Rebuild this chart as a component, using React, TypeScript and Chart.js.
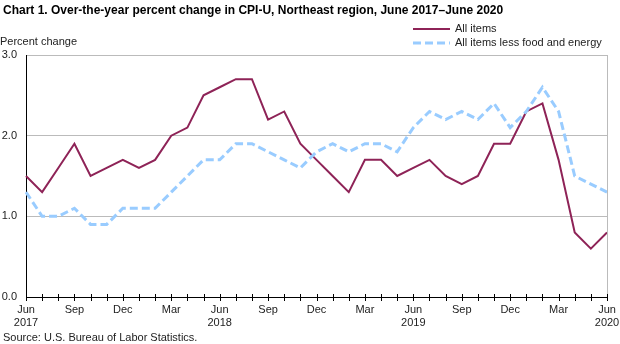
import React, { useEffect, useRef } from "react";
import { Chart, registerables } from "chart.js";

Chart.register(...registerables);

const months = ["Jun","Jul","Aug","Sep","Oct","Nov","Dec","Jan","Feb","Mar","Apr","May"];
const startYear = 2017;
const categories: string[] = [];
for (let i = 0; i <= 36; i++) {
  const m = months[i % 12];
  const y = startYear + Math.floor((i + 5) / 12);
  categories.push(m + " " + y);
}

const allItems = [
  1.5, 1.3, 1.6, 1.9, 1.5, 1.6, 1.7, 1.6, 1.7, 2.0, 2.1, 2.5,
  2.6, 2.7, 2.7, 2.2, 2.3, 1.9, 1.7, 1.5, 1.3, 1.7, 1.7, 1.5,
  1.6, 1.7, 1.5, 1.4, 1.5, 1.9, 1.9, 2.3, 2.4, 1.7, 0.8, 0.6,
  0.8,
];
const coreItems = [
  1.3, 1.0, 1.0, 1.1, 0.9, 0.9, 1.1, 1.1, 1.1, 1.3, 1.5, 1.7,
  1.7, 1.9, 1.9, 1.8, 1.7, 1.6, 1.8, 1.9, 1.8, 1.9, 1.9, 1.8,
  2.1, 2.3, 2.2, 2.3, 2.2, 2.4, 2.1, 2.3, 2.6, 2.3, 1.5, 1.4,
  1.3,
];
const yTicks = [0, 1, 2, 3];

const titleText = "Chart 1. Over-the-year percent change in CPI-U, Northeast region, June 2017\u2013June 2020";
const yTitle = "Percent change";
const sourceText = "Source: U.S. Bureau of Labor Statistics.";
const seriesNames = ["All items", "All items less food and energy"];
const colorAll = "#8E2357";
const colorCore = "#99CCFF";
const FONT = "Arial, 'Liberation Sans', sans-serif";

export default function App() {
  const ref = useRef<HTMLCanvasElement | null>(null);
  useEffect(() => {
    if (!ref.current) return;
    const decor = {
      id: "decor",
      afterDraw(chart: any) {
        const ctx = chart.ctx;
        const a = chart.chartArea;
        ctx.save();
        ctx.strokeStyle = "#BBBBBB";
        ctx.lineWidth = 1;
        ctx.beginPath();
        ctx.moveTo(a.right + 0.5, a.top);
        ctx.lineTo(a.right + 0.5, a.bottom);
        ctx.stroke();
        const xs = chart.scales.x;
        ctx.strokeStyle = "#000";
        ctx.beginPath();
        for (let i = 0; i < categories.length; i++) {
          const x = Math.round(xs.getPixelForValue(i)) + 0.5;
          ctx.moveTo(x, a.bottom - 3);
          ctx.lineTo(x, a.bottom + 4);
        }
        ctx.stroke();
        ctx.fillStyle = "#000";
        ctx.textBaseline = "middle";
        ctx.textAlign = "left";
        ctx.font = "bold 12px " + FONT;
        ctx.fillText(titleText, 3, 11);
        ctx.font = "11px " + FONT;
        ctx.fillStyle = "#222";
        ctx.fillText(yTitle, 0, 42);
        ctx.fillText(sourceText, 3, 338);
        const items = [
          { name: seriesNames[0], color: colorAll, dash: [] as number[], w: 2, y: 29 },
          { name: seriesNames[1], color: colorCore, dash: [8, 4], w: 3, y: 43 },
        ];
        for (const it of items) {
          ctx.strokeStyle = it.color;
          ctx.lineWidth = it.w;
          ctx.setLineDash(it.dash);
          ctx.beginPath();
          ctx.moveTo(413, it.y);
          ctx.lineTo(450, it.y);
          ctx.stroke();
          ctx.setLineDash([]);
          ctx.fillStyle = "#222";
          ctx.fillText(it.name, 455, it.y);
        }
        ctx.restore();
      },
    };
    const chart = new Chart(ref.current, {
      type: "line",
      data: {
        labels: categories,
        datasets: [
          {
            label: seriesNames[1],
            data: coreItems,
            borderColor: colorCore,
            borderWidth: 3,
            borderDash: [8, 4],
            pointRadius: 0,
            tension: 0,
            fill: false,
          },
          {
            label: seriesNames[0],
            data: allItems,
            borderColor: colorAll,
            borderWidth: 2,
            pointRadius: 0,
            tension: 0,
            fill: false,
          },
        ],
      },
      options: {
        animation: false,
        responsive: false,
        devicePixelRatio: 1,
        layout: { padding: { top: 55, left: 0, right: 13, bottom: 0 } },
        plugins: {
          legend: { display: false },
          title: { display: false },
          tooltip: { enabled: false },
        },
        scales: {
          x: {
            type: "category",
            offset: false,
            grid: { display: false, drawTicks: false },
            border: { display: true, color: "#000", width: 1 },
            ticks: {
              autoSkip: false,
              maxRotation: 0,
              padding: 6,
              color: "#222",
              font: { family: FONT, size: 11 },
              callback: (_v: any, i: number) => {
                const m = i % 12;
                if (m % 3 !== 0) return "";
                const name = months[m];
                if (name === "Jun") {
                  return [name, String(startYear + Math.floor(i / 12))];
                }
                return name;
              },
            },
            afterFit: (s: any) => {
              s.height = 47;
              s.paddingLeft = 0;
              s.paddingRight = 0;
            },
          },
          y: {
            min: 0,
            max: 3,
            afterBuildTicks: (s: any) => { s.ticks = yTicks.map((v) => ({ value: v })); },
            grid: { color: "#BBBBBB", drawTicks: false, lineWidth: 1 },
            border: { display: true, color: "#000", width: 1 },
            ticks: {
              padding: 9,
              color: "#222",
              font: { family: FONT, size: 11 },
              callback: (v: any) => Number(v).toFixed(1),
            },
            afterFit: (s: any) => {
              s.width = 26;
              s.paddingTop = 0;
              s.paddingBottom = 0;
            },
          },
        },
      },
      plugins: [decor],
    });
    return () => chart.destroy();
  }, []);
  return (
    <div style={{ position: "fixed", left: 0, top: 0, width: 620, height: 344, background: "#fff" }}>
      <canvas ref={ref} width={620} height={344} style={{ width: 620, height: 344 }} />
    </div>
  );
}
